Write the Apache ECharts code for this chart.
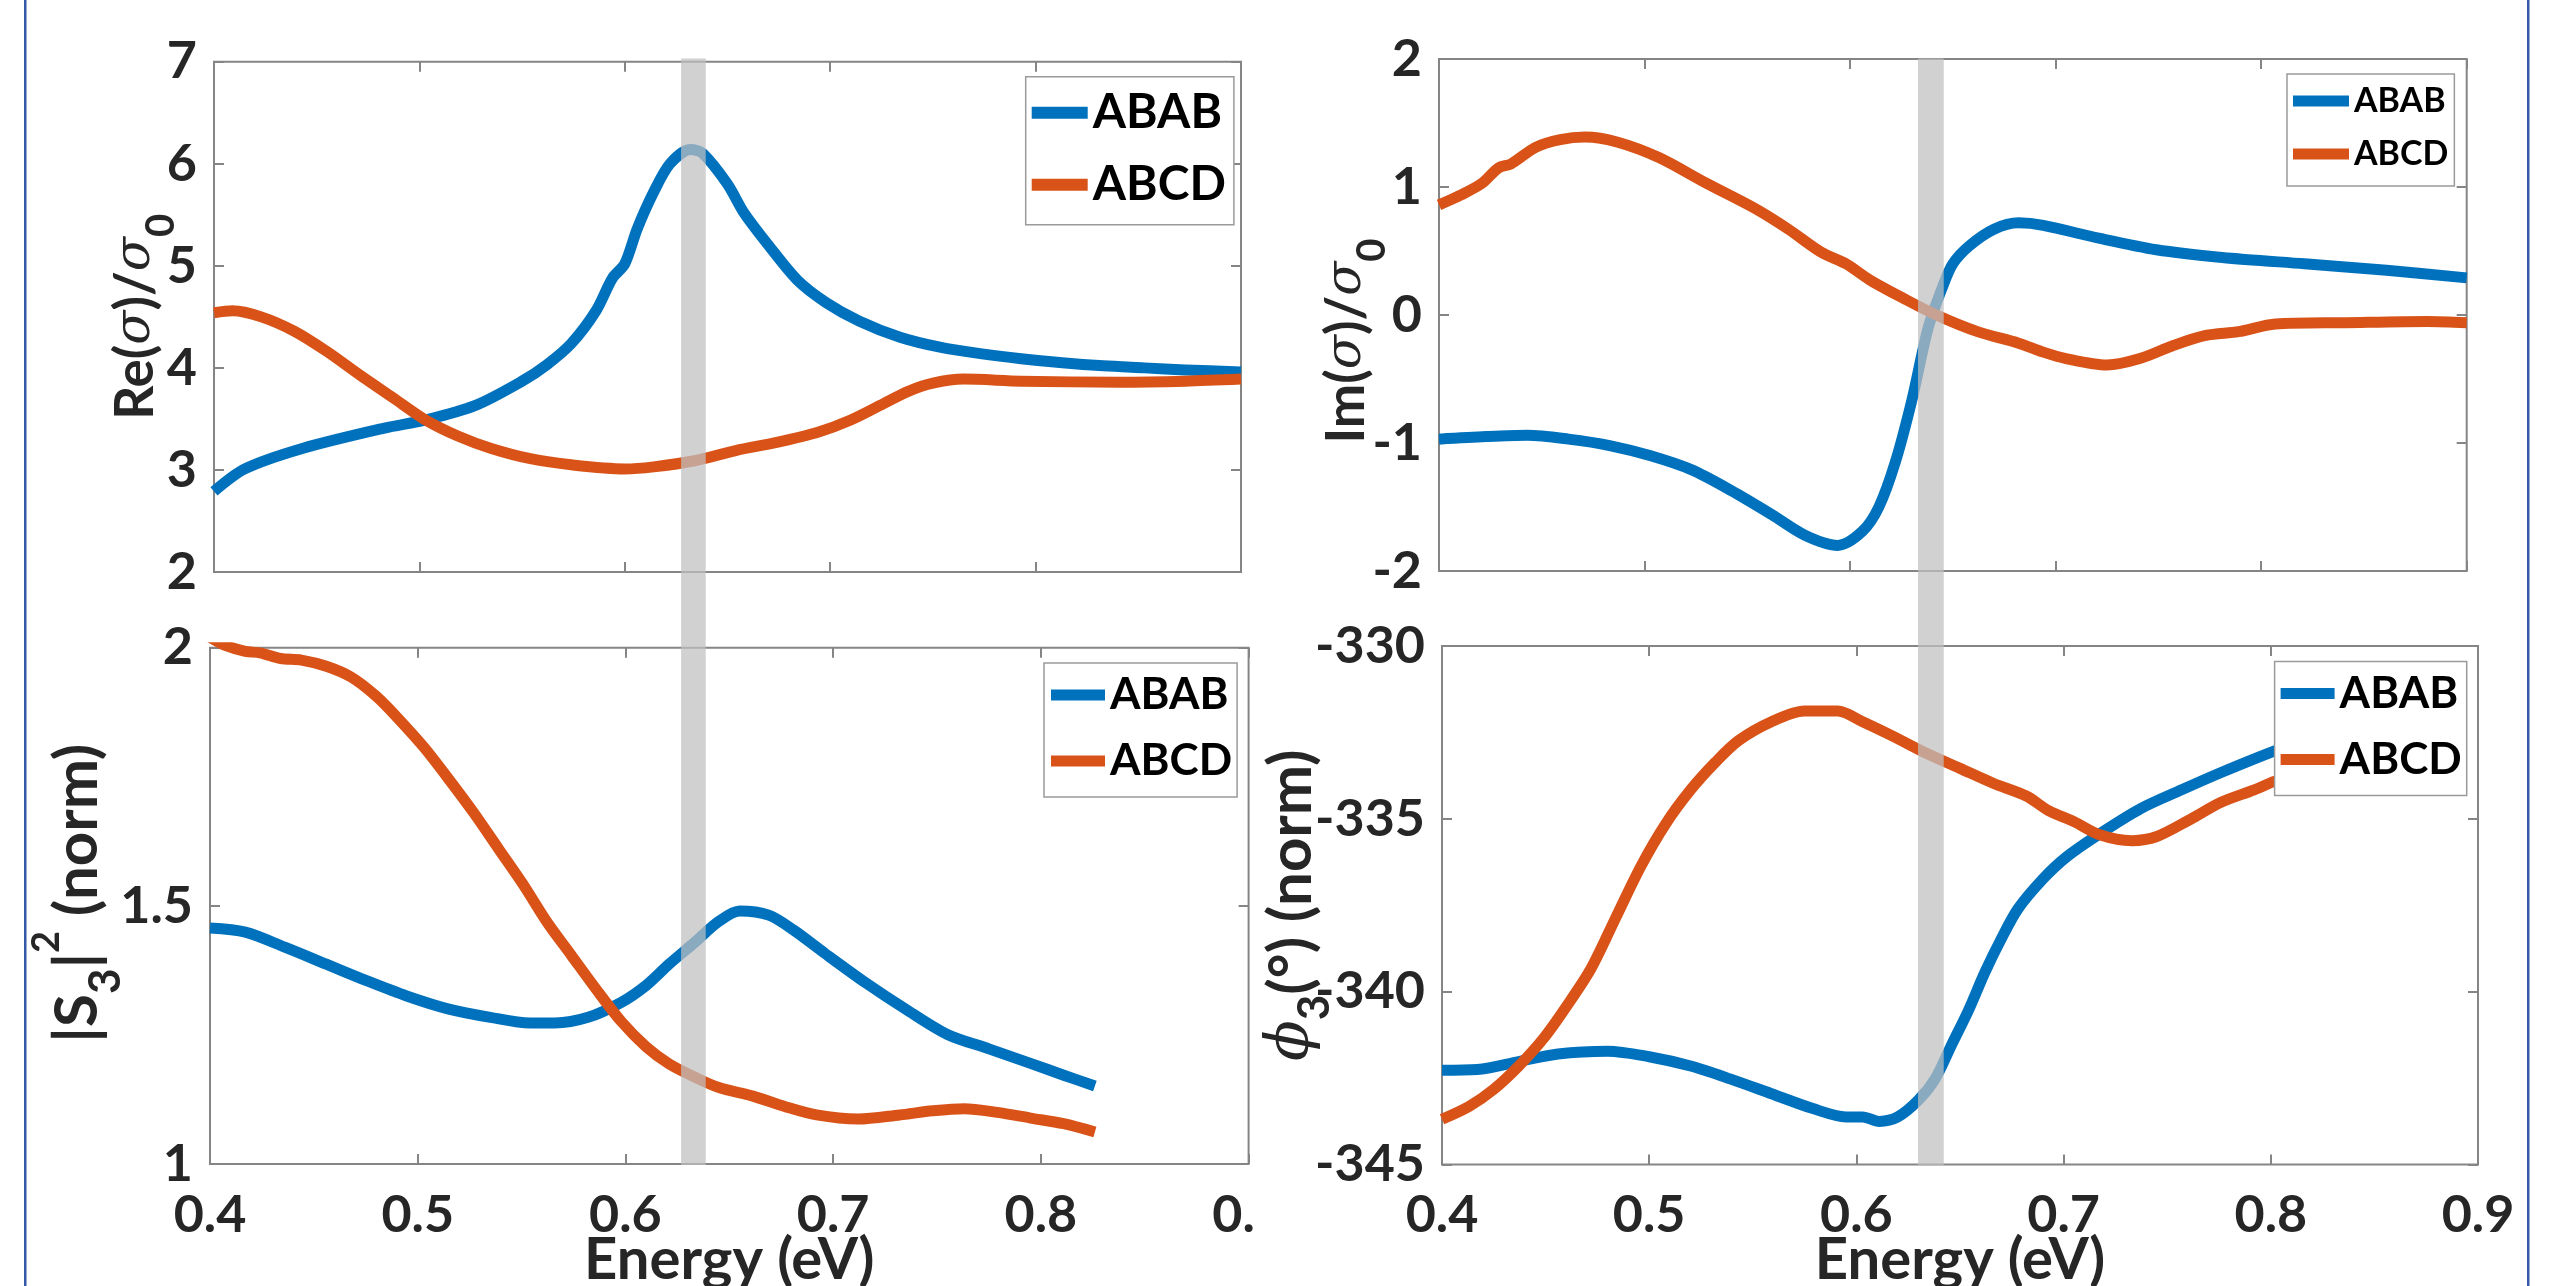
<!DOCTYPE html>
<html>
<head>
<meta charset="utf-8">
<script src="https://cdn.jsdelivr.net/npm/echarts@6/dist/echarts.min.js"></script>
<style>
html,body{margin:0;padding:0;background:#ffffff;}
#chart{width:2564px;height:1286px;}
</style>
</head>
<body>
<div id="chart"></div>
<script>
// ---------------- data ----------------
const seriesNames = ['ABAB', 'ABCD'];

// Re(sigma)/sigma0
const eReABAB = [0.400,0.415,0.443,0.483,0.503,0.527,0.550,0.562,0.574,0.586,0.594,0.600,0.606,0.614,0.622,0.632,0.638,0.650,0.658,0.670,0.684,0.698,0.714,0.734,0.754,0.773,0.793,0.813,0.833,0.853,0.873,0.900];
const reABAB  = [2.79,3.01,3.21,3.41,3.49,3.63,3.87,4.03,4.24,4.56,4.88,5.02,5.36,5.72,6.00,6.14,6.10,5.80,5.52,5.20,4.86,4.64,4.46,4.30,4.20,4.14,4.09,4.05,4.02,4.00,3.98,3.96];
const eReABCD = [0.400,0.409,0.423,0.439,0.455,0.471,0.487,0.503,0.519,0.535,0.554,0.574,0.600,0.614,0.634,0.654,0.674,0.694,0.710,0.726,0.738,0.750,0.765,0.793,0.841,0.873,0.900];
const reABCD  = [4.54,4.56,4.50,4.36,4.16,3.93,3.71,3.49,3.33,3.21,3.11,3.05,3.01,3.03,3.09,3.19,3.27,3.37,3.49,3.65,3.77,3.85,3.89,3.87,3.86,3.87,3.89];

// Im(sigma)/sigma0
const eImABAB = [0.400,0.423,0.443,0.463,0.483,0.503,0.523,0.542,0.562,0.578,0.594,0.606,0.614,0.622,0.630,0.638,0.645,0.650,0.658,0.670,0.682,0.694,0.721,0.749,0.781,0.821,0.861,0.900];
const imABAB  = [-0.97,-0.95,-0.94,-0.97,-1.02,-1.10,-1.21,-1.37,-1.56,-1.72,-1.80,-1.69,-1.50,-1.15,-0.67,-0.10,0.22,0.40,0.54,0.67,0.72,0.70,0.60,0.51,0.45,0.40,0.35,0.29];
const eImABCD = [0.400,0.411,0.421,0.429,0.435,0.447,0.459,0.471,0.487,0.507,0.530,0.554,0.570,0.586,0.598,0.610,0.626,0.642,0.662,0.682,0.694,0.705,0.725,0.741,0.757,0.773,0.789,0.807,0.841,0.881,0.900];
const imABCD  = [0.86,0.94,1.03,1.15,1.18,1.31,1.37,1.39,1.35,1.23,1.03,0.83,0.67,0.49,0.40,0.27,0.13,0.00,-0.13,-0.22,-0.29,-0.34,-0.39,-0.34,-0.24,-0.16,-0.13,-0.07,-0.06,-0.05,-0.06];

// |S3|^2 (norm)
const eS3ABAB = [0.400,0.417,0.436,0.456,0.476,0.495,0.515,0.535,0.554,0.566,0.582,0.598,0.610,0.621,0.633,0.645,0.655,0.669,0.681,0.696,0.716,0.736,0.755,0.775,0.795,0.811,0.826];
const s3ABAB  = [1.457,1.449,1.420,1.387,1.354,1.325,1.300,1.284,1.273,1.273,1.284,1.313,1.346,1.387,1.428,1.470,1.490,1.482,1.453,1.408,1.350,1.297,1.251,1.223,1.195,1.172,1.151];
const eS3ABCD = [0.400,0.407,0.417,0.424,0.434,0.444,0.456,0.468,0.480,0.491,0.503,0.515,0.527,0.539,0.551,0.562,0.574,0.586,0.598,0.610,0.621,0.633,0.645,0.661,0.677,0.692,0.712,0.732,0.748,0.763,0.779,0.795,0.811,0.826];
const s3ABCD  = [2.020,2.005,1.993,1.990,1.979,1.976,1.964,1.943,1.906,1.861,1.807,1.745,1.680,1.610,1.540,1.470,1.404,1.338,1.276,1.227,1.194,1.169,1.148,1.132,1.111,1.095,1.087,1.095,1.103,1.107,1.100,1.089,1.078,1.062];

// phi3 (deg) (norm)
const ePhiABAB = [0.400,0.417,0.437,0.456,0.480,0.500,0.520,0.539,0.559,0.579,0.595,0.603,0.611,0.620,0.630,0.638,0.646,0.654,0.662,0.670,0.678,0.690,0.701,0.717,0.737,0.757,0.776,0.796,0.812,0.826];
const phiABAB  = [-342.27,-342.25,-342.02,-341.80,-341.72,-341.88,-342.15,-342.52,-342.95,-343.38,-343.62,-343.62,-343.75,-343.62,-343.13,-342.52,-341.53,-340.55,-339.44,-338.46,-337.60,-336.74,-336.12,-335.45,-334.71,-334.16,-333.66,-333.17,-332.80,-332.50];
const ePhiABCD = [0.400,0.413,0.425,0.437,0.449,0.460,0.472,0.484,0.496,0.508,0.520,0.532,0.543,0.559,0.575,0.591,0.603,0.618,0.634,0.650,0.666,0.682,0.693,0.705,0.717,0.733,0.745,0.761,0.776,0.792,0.802,0.814,0.826];
const phiABCD  = [-343.69,-343.32,-342.82,-342.15,-341.35,-340.43,-339.32,-337.84,-336.37,-335.14,-334.16,-333.36,-332.74,-332.19,-331.88,-331.88,-332.19,-332.62,-333.11,-333.54,-333.97,-334.34,-334.77,-335.08,-335.45,-335.63,-335.51,-335.02,-334.52,-334.16,-333.91,-333.70,-333.50];

// tick values
const energyTicks = [0.4, 0.5, 0.6, 0.7, 0.8, 0.9];
const reTicks  = [2, 3, 4, 5, 6, 7];
const imTicks  = [-2, -1, 0, 1, 2];
const s3Ticks  = [1, 1.5, 2];
const phiTicks = [-345, -340, -335, -330];

// shaded energy band (eV)
const bandLeft  = [0.6274, 0.6394];
const bandRight = [0.6330, 0.6455];

// ---------------- styling / layout ----------------
const FONT = 'Lato';
const TXT = '#262626';
const BOX = '#858585';
const COLORS = ['#0072BD', '#D95319'];

const pts = (xs, ys) => xs.map((x, i) => [x, ys[i]]);
const step = t => +(t[1] - t[0]).toFixed(6);

// fs: [main, greek, sub/sup] font sizes of the y-axis title
const panels = [
  { grid: {left: 214, top: 61.7, width: 1027, height: 510.3}, yTicks: reTicks, xLabels: false,
    data: [pts(eReABAB, reABAB), pts(eReABCD, reABCD)],
    yName: '{t|Re(}{g|σ}{t|)/}{g|σ}{s|0}', lh: 90, nameGap: 33, fs: [53, 50, 40],
    legend: {left: 1025.7, top: 76.7, fs: 48, iw: 56, ih: 12, gap: 24, pad: [12, 8, 16, 6]} },
  { grid: {left: 1439, top: 59, width: 1027.7, height: 512}, yTicks: imTicks, xLabels: false,
    data: [pts(eImABAB, imABAB), pts(eImABCD, imABCD)],
    yName: '{t|Im(}{g|σ}{t|)/}{g|σ}{s|0}', lh: 90, nameGap: 47, fs: [53, 50, 40],
    nameBox: {top: 113, height: 456},
    legend: {left: 2287, top: 74, fs: 34, iw: 56, ih: 11, gap: 19, pad: [10, 6, 15, 6]} },
  { grid: {left: 210, top: 647.7, width: 1038.6, height: 516.3}, yTicks: s3Ticks, xLabels: true, cutLast: true,
    data: [pts(eS3ABAB, s3ABAB), pts(eS3ABCD, s3ABCD)],
    yName: '{t||S}{s|3}{t||}{p|2}{t| (norm)}', lh: 100, nameGap: 82, fs: [60, 60, 44],
    nameBox: {top: 635, height: 516.3},
    legend: {left: 1044, top: 663, fs: 44, iw: 54, ih: 11, gap: 22, pad: [10, 5, 14, 7]} },
  { grid: {left: 1442, top: 646, width: 1036, height: 518.6}, yTicks: phiTicks, xLabels: true,
    data: [pts(ePhiABAB, phiABAB), pts(ePhiABCD, phiABCD)],
    yName: '{g|ϕ}{s|3}{t|(°) (norm)}', lh: 90, nameGap: 105, fs: [60, 60, 44],
    legend: {left: 2274.6, top: 661.6, fs: 44, iw: 54, ih: 11, gap: 22, pad: [10, 5, 14, 6]} }
];

const richY = (L, f) => ({
  t: {fontFamily: FONT, fontWeight: 'bold', fontSize: f[0], lineHeight: L, color: TXT},
  g: {fontFamily: 'DejaVu Serif', fontStyle: 'italic', fontWeight: 'normal', fontSize: f[1], lineHeight: L, color: TXT},
  s: {fontFamily: FONT, fontWeight: 'bold', fontSize: f[2], lineHeight: f[2], verticalAlign: 'bottom', color: TXT},
  p: {fontFamily: FONT, fontWeight: 'bold', fontSize: 38, lineHeight: 38, verticalAlign: 'top', color: TXT}
});

const tickStyle = {inside: true, length: 10, lineStyle: {color: BOX, width: 2}};
const labelBase = {fontFamily: FONT, fontWeight: 'bold', fontSize: 52, color: TXT};
const noLine = {show: false, onZero: false};

const grids = [], xAxes = [], yAxes = [], series = [], legends = [];
const nameAxes = [];

panels.forEach((p, i) => {
  grids.push(Object.assign({show: true, borderColor: BOX, borderWidth: 2, backgroundColor: 'transparent',
    containLabel: false, outerBoundsMode: 'none'}, p.grid));
  const xMin = energyTicks[0], xMax = energyTicks[energyTicks.length - 1], xInt = step(energyTicks);
  const yMin = p.yTicks[0], yMax = p.yTicks[p.yTicks.length - 1], yInt = step(p.yTicks);
  const nameOpts = {
    name: p.yName, nameLocation: 'middle', nameRotate: 90, nameGap: p.nameGap, nameMoveOverlap: false,
    nameTextStyle: {fontFamily: FONT, fontWeight: 'bold', fontSize: p.fs[0], color: TXT, rich: richY(p.lh, p.fs)}
  };
  // bottom x axis
  xAxes.push({
    gridIndex: i, type: 'value', position: 'bottom', min: xMin, max: xMax, interval: xInt,
    axisLine: noLine, axisTick: tickStyle, splitLine: {show: false},
    axisLabel: {show: p.xLabels, margin: 25, ...labelBase,
      formatter: v => (p.cutLast && Math.abs(v - xMax) < 1e-9) ? '{c|0.}' : String(+v.toFixed(2)),
      rich: {c: {...labelBase, padding: [0, 30, 0, 0]}}},
    name: p.xLabels ? 'Energy (eV)' : '', nameLocation: 'middle', nameGap: 67, nameMoveOverlap: false,
    nameTextStyle: {fontFamily: FONT, fontWeight: 'bold', fontSize: 58, color: TXT}
  });
  // top mirror axis (ticks only)
  xAxes.push({
    gridIndex: i, type: 'value', position: 'top', min: xMin, max: xMax, interval: xInt,
    axisLine: noLine, axisTick: tickStyle, axisLabel: {show: false}, splitLine: {show: false}
  });
  // left y axis
  yAxes.push(Object.assign({
    gridIndex: i, type: 'value', position: 'left', min: yMin, max: yMax, interval: yInt,
    axisLine: noLine, axisTick: tickStyle, splitLine: {show: false},
    axisLabel: {margin: 17, ...labelBase}
  }, p.nameBox ? {} : nameOpts));
  if (p.nameBox) nameAxes.push([Object.assign({}, p.grid, p.nameBox), nameOpts]);
  // right mirror axis
  yAxes.push({
    gridIndex: i, type: 'value', position: 'right', min: yMin, max: yMax, interval: yInt,
    axisLine: noLine, axisTick: tickStyle, axisLabel: {show: false}, splitLine: {show: false}
  });
  p.data.forEach((d, k) => {
    series.push({
      type: 'line', name: seriesNames[k], xAxisIndex: 2 * i, yAxisIndex: 2 * i, data: d,
      symbol: 'none', showSymbol: false, smooth: 0.3, clip: true, z: 2,
      lineStyle: {width: 11, color: COLORS[k], cap: 'butt', join: 'round'},
      itemStyle: {color: COLORS[k]}
    });
  });
  const L = p.legend;
  legends.push({
    data: seriesNames, orient: 'vertical', left: L.left, top: L.top, icon: 'rect',
    itemWidth: L.iw, itemHeight: L.ih, itemGap: L.gap, padding: L.pad,
    borderColor: '#9a9a9a', borderWidth: 1.5, backgroundColor: '#ffffff', borderRadius: 0,
    itemStyle: {borderWidth: 0}, selectedMode: false, z: 6,
    textStyle: {fontFamily: FONT, fontWeight: 'bold', fontSize: L.fs, lineHeight: L.fs, color: '#000000'}
  });
});

// overlay grids spanning top + bottom rows for the shaded band
[[{left: 214, top: 58.5, width: 1027, height: 1106.5}, bandLeft],
 [{left: 1439, top: 58.5, width: 1028, height: 1106.5}, bandRight]].forEach(([g, band]) => {
  const gi = grids.length;
  grids.push(Object.assign({show: false, containLabel: false, outerBoundsMode: 'none'}, g));
  xAxes.push({gridIndex: gi, type: 'value', min: energyTicks[0], max: energyTicks[energyTicks.length - 1], show: false, axisLine: noLine});
  yAxes.push({gridIndex: gi, type: 'value', min: 0, max: 1, show: false, axisLine: noLine});
  series.push({
    type: 'line', xAxisIndex: xAxes.length - 1, yAxisIndex: yAxes.length - 1,
    data: [[energyTicks[0], 0], [energyTicks[energyTicks.length - 1], 0]],
    symbol: 'none', lineStyle: {width: 0, opacity: 0}, z: 10, silent: true,
    markArea: {silent: true, z: 10, itemStyle: {color: 'rgba(191,191,191,0.72)'},
      data: [[{xAxis: band[0]}, {xAxis: band[1]}]]}
  });
});

// title-only axes (y-axis titles that sit off the panel centre)
nameAxes.forEach(([g, nameOpts]) => {
  const gi = grids.length;
  grids.push(Object.assign({show: false, containLabel: false, outerBoundsMode: 'none'}, g));
  xAxes.push({gridIndex: gi, type: 'value', min: 0, max: 1, show: false, axisLine: noLine});
  yAxes.push(Object.assign({gridIndex: gi, type: 'value', position: 'left', min: 0, max: 1,
    axisLine: noLine, axisTick: {show: false}, axisLabel: {show: false}, splitLine: {show: false}}, nameOpts));
});

const option = {
  animation: false,
  backgroundColor: '#ffffff',
  grid: grids, xAxis: xAxes, yAxis: yAxes, series: series, legend: legends,
  graphic: [
    {type: 'rect', shape: {x: 24, y: 0, width: 2.5, height: 1286}, style: {fill: '#3558a8'}, silent: true},
    {type: 'rect', shape: {x: 2527, y: 0, width: 2.5, height: 1286}, style: {fill: '#3558a8'}, silent: true}
  ]
};

const chart = echarts.init(document.getElementById('chart'), null, {renderer: 'canvas'});
chart.setOption(option);
</script>
</body>
</html>
